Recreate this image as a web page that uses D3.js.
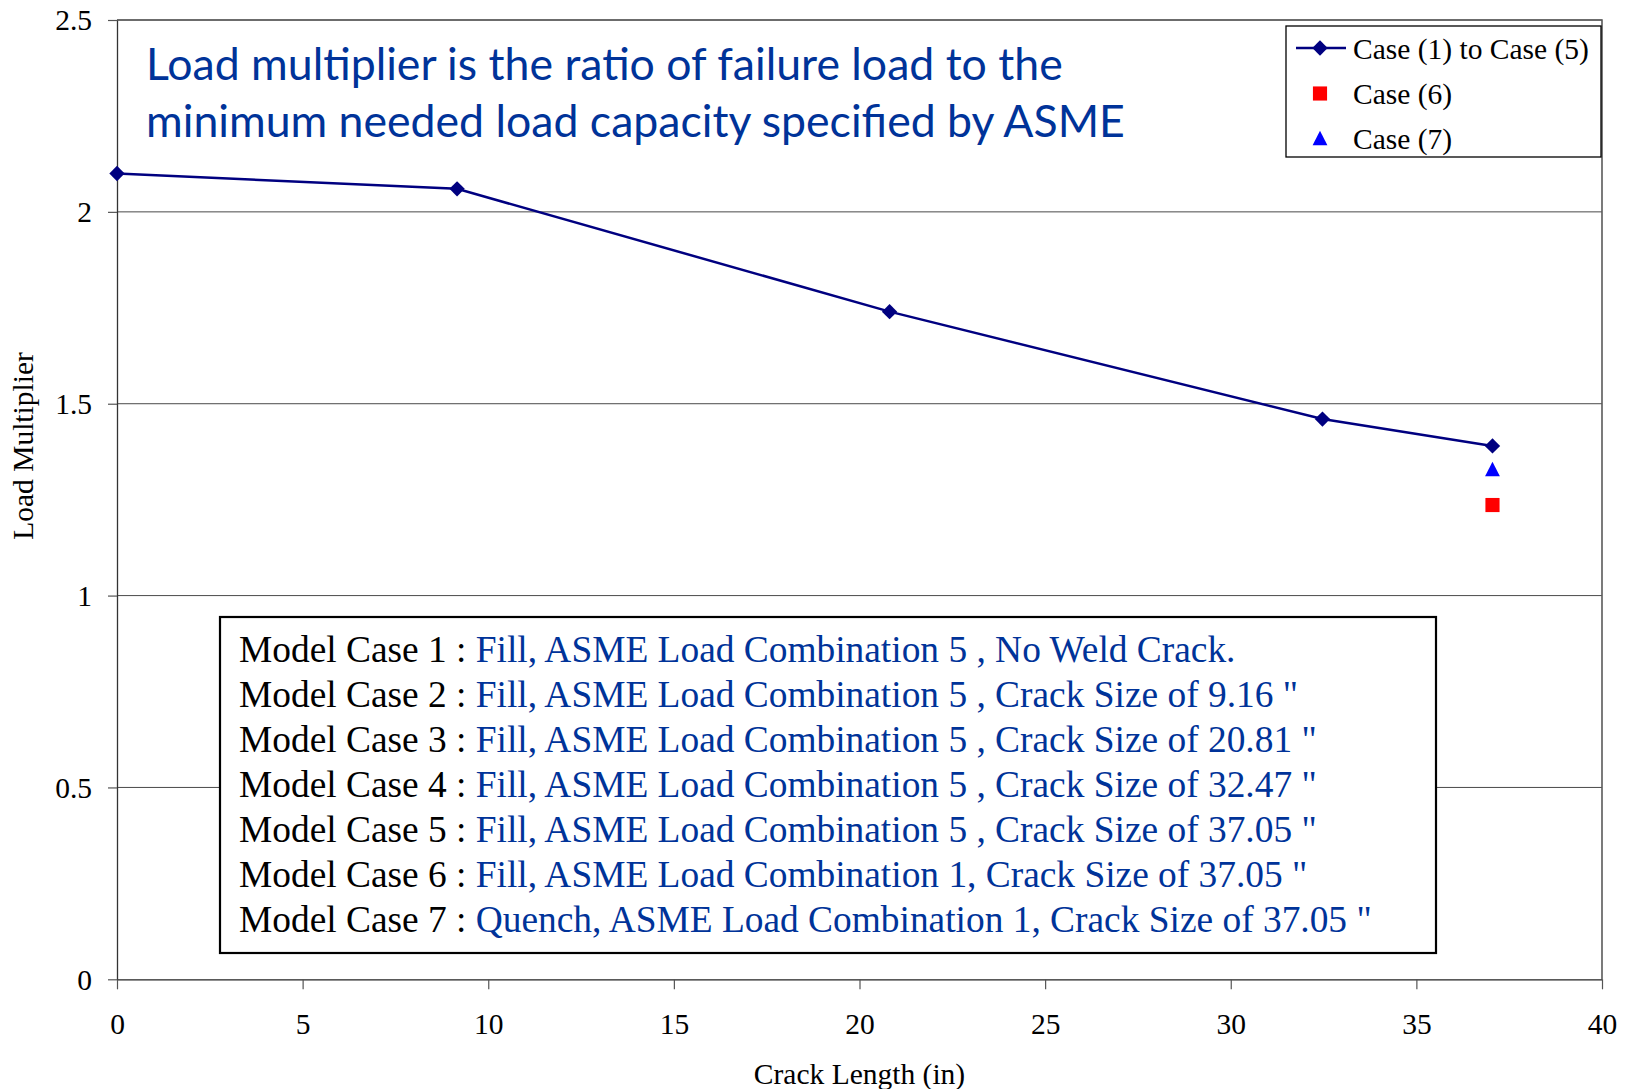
<!DOCTYPE html>
<html>
<head>
<meta charset="utf-8">
<script src="https://cdn.jsdelivr.net/npm/d3@7"></script>
<style>
  html, body { margin: 0; padding: 0; background: #ffffff; }
  svg { display: block; }
  text { white-space: pre; }
</style>
</head>
<body>
<svg id="chart" width="1633" height="1089"></svg>
<script>
// ---------------- DATA ----------------
const crackLength = [0, 9.16, 20.81, 32.47, 37.05];
const loadMultiplier = [2.10, 2.06, 1.74, 1.46, 1.39];
const case6X = [37.05];
const case6Y = [1.236];
const case7X = [37.05];
const case7Y = [1.33];
const legendLabels = ["Case (1) to Case (5)", "Case (6)", "Case (7)"];
const xTicks = [0, 5, 10, 15, 20, 25, 30, 35, 40];
const yTicks = [0, 0.5, 1, 1.5, 2, 2.5];
const xTitle = "Crack Length (in)";
const yTitle = "Load Multiplier";
const noteLines = [
  "Load multiplier is the ratio of failure load to the",
  "minimum needed load capacity specified by ASME"
];
const modelCaseNames = [
  "Model Case 1 : ", "Model Case 2 : ", "Model Case 3 : ", "Model Case 4 : ",
  "Model Case 5 : ", "Model Case 6 : ", "Model Case 7 : "
];
const modelCaseDescs = [
  "Fill, ASME Load Combination 5 , No Weld Crack.",
  "Fill, ASME Load Combination 5 , Crack Size of 9.16 \"",
  "Fill, ASME Load Combination 5 , Crack Size of 20.81 \"",
  "Fill, ASME Load Combination 5 , Crack Size of 32.47 \"",
  "Fill, ASME Load Combination 5 , Crack Size of 37.05 \"",
  "Fill, ASME Load Combination 1, Crack Size of 37.05 \"",
  "Quench, ASME Load Combination 1, Crack Size of 37.05 \""
];

// ---------------- LAYOUT ----------------
const plot = { left: 117, right: 1602, top: 20, bottom: 979.3 };
const serif = "'Liberation Serif', 'Times New Roman', serif";
const navy = "#000080";
const noteBlue = "#003399";

const svg = d3.select("#chart");

const x = d3.scaleLinear().domain([0, 40]).range([plot.left, plot.right]);
const y = d3.scaleLinear().domain([0, 2.5]).range([plot.bottom, plot.top]);

// gridlines
svg.append("g")
  .selectAll("line")
  .data(yTicks.filter(d => d > 0))
  .join("line")
  .attr("x1", plot.left).attr("x2", plot.right)
  .attr("y1", d => y(d)).attr("y2", d => y(d))
  .attr("stroke", "#4a4a4a").attr("stroke-width", 1);

// plot border (top & right)
svg.append("path")
  .attr("d", `M${plot.left},${plot.top}H${plot.right}V${plot.bottom}`)
  .attr("fill", "none").attr("stroke", "#5a5a5a").attr("stroke-width", 1.6);

// axes
const xAxis = svg.append("g")
  .attr("transform", `translate(0,${plot.bottom})`)
  .call(d3.axisBottom(x).tickValues(xTicks).tickSize(10).tickSizeOuter(0).tickFormat(d3.format("d")));
xAxis.select(".domain").attr("stroke", "#222").attr("stroke-width", 1.3);
xAxis.selectAll(".tick line").attr("stroke", "#555").attr("stroke-width", 1.2);
xAxis.selectAll(".tick text")
  .attr("y", 55).attr("dy", 0)
  .attr("font-family", serif).attr("font-size", 29.5).attr("fill", "#000");

const yAxis = svg.append("g")
  .attr("transform", `translate(${plot.left},0)`)
  .call(d3.axisLeft(y).tickValues(yTicks).tickSize(9).tickSizeOuter(0).tickFormat(d => String(d)));
yAxis.select(".domain").attr("stroke", "#333").attr("stroke-width", 1.3);
yAxis.selectAll(".tick line").attr("stroke", "#555").attr("stroke-width", 1.2);
yAxis.selectAll(".tick text")
  .attr("x", -25).attr("dy", "0.33em")
  .attr("font-family", serif).attr("font-size", 29.5).attr("fill", "#000");

// axis titles
svg.append("text")
  .attr("x", (plot.left + plot.right) / 2).attr("y", 1084)
  .attr("text-anchor", "middle")
  .attr("font-family", serif).attr("font-size", 29.5).attr("fill", "#000")
  .text(xTitle);

svg.append("text")
  .attr("transform", "translate(33,446) rotate(-90)")
  .attr("text-anchor", "middle")
  .attr("font-family", serif).attr("font-size", 29.5).attr("fill", "#000")
  .text(yTitle);

// note text at top
const noteG = svg.append("g");
const noteText = noteG.selectAll("text")
  .data(noteLines)
  .join("text")
  .attr("x", 146)
  .attr("y", (d, i) => 80 + i * 57)
  .attr("font-family", "Lato, 'Noto Sans', sans-serif")
  .attr("font-size", 44)
  .attr("fill", noteBlue)
  .text(d => d);
// fit the first line to the reference width
const w0 = noteText.nodes()[0].getComputedTextLength();
const fitSize = 44 * 917 / w0;
noteText.attr("font-size", fitSize);

// model case box
const box = { x: 220, y: 617, w: 1216, h: 336 };
svg.append("rect")
  .attr("x", box.x).attr("y", box.y).attr("width", box.w).attr("height", box.h)
  .attr("fill", "#fff").attr("stroke", "#000").attr("stroke-width", 2.2);
const boxText = svg.append("g").selectAll("text")
  .data(modelCaseNames)
  .join("text")
  .attr("x", 239)
  .attr("y", (d, i) => 662 + i * 45)
  .attr("font-family", serif)
  .attr("font-size", 37.4);
boxText.append("tspan").attr("fill", "#000").text(d => d);
boxText.append("tspan").attr("fill", noteBlue).text((d, i) => modelCaseDescs[i]);

// series line
const line = d3.line().x((d, i) => x(crackLength[i])).y(d => y(d));
svg.append("path")
  .datum(loadMultiplier)
  .attr("d", line)
  .attr("fill", "none").attr("stroke", navy).attr("stroke-width", 2.5);

const diamond = d3.symbol().type(d3.symbolSquare).size(118);
svg.append("g").selectAll("path")
  .data(loadMultiplier)
  .join("path")
  .attr("d", diamond)
  .attr("transform", (d, i) => `translate(${x(crackLength[i])},${y(d)}) rotate(45)`)
  .attr("fill", navy);

// case 6 square
const square = d3.symbol().type(d3.symbolSquare).size(200);
svg.append("g").selectAll("path")
  .data(case6Y)
  .join("path")
  .attr("d", square)
  .attr("transform", (d, i) => `translate(${x(case6X[i])},${y(d)})`)
  .attr("fill", "#ff0000");

// case 7 triangle
const triPath = "M0,-7.2L7.4,7.2L-7.4,7.2Z";
svg.append("g").selectAll("path")
  .data(case7Y)
  .join("path")
  .attr("d", triPath)
  .attr("transform", (d, i) => `translate(${x(case7X[i])},${y(d)})`)
  .attr("fill", "#0000ff");

// legend
const lg = svg.append("g");
lg.append("rect")
  .attr("x", 1286).attr("y", 26).attr("width", 315).attr("height", 131)
  .attr("fill", "#fff").attr("stroke", "#000").attr("stroke-width", 1.3);
const rowY = [48, 93.5, 138];
lg.append("line").attr("x1", 1296).attr("x2", 1346).attr("y1", rowY[0]).attr("y2", rowY[0])
  .attr("stroke", navy).attr("stroke-width", 2.5);
lg.append("path").attr("d", diamond).attr("transform", `translate(1320,${rowY[0]}) rotate(45)`).attr("fill", navy);
lg.append("path").attr("d", square).attr("transform", `translate(1320,${rowY[1]})`).attr("fill", "#ff0000");
lg.append("path").attr("d", triPath).attr("transform", `translate(1320,${rowY[2]})`).attr("fill", "#0000ff");
lg.selectAll("text.lab")
  .data(legendLabels)
  .join("text")
  .attr("class", "lab")
  .attr("x", 1353)
  .attr("y", (d, i) => rowY[i] + 10.5)
  .attr("font-family", serif).attr("font-size", 29.5).attr("fill", "#000")
  .text(d => d);
</script>
</body>
</html>
